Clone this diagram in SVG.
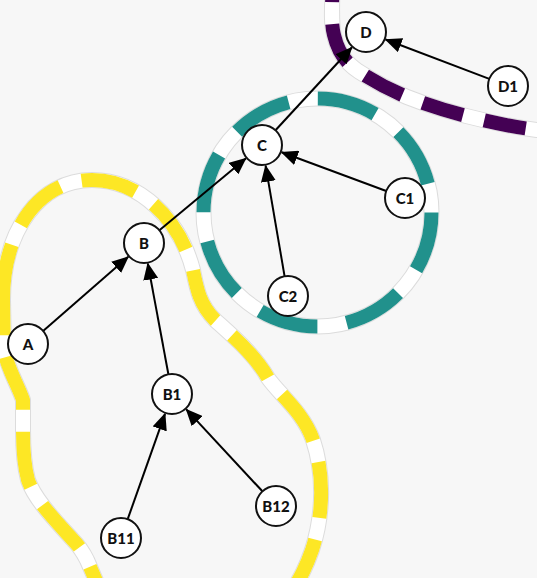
<svg xmlns="http://www.w3.org/2000/svg" width="537" height="578" viewBox="0 0 537 578">
<style>
.bg{fill:#f7f7f7}
.hb{fill:none;stroke:#dcdcdc;stroke-width:16;stroke-linejoin:round}
.hw{fill:none;stroke:#ffffff;stroke-width:14;stroke-linejoin:round}
.hd{fill:none;stroke-width:14;stroke-linejoin:round}
.edge{stroke:#000;stroke-width:2;fill:none;marker-end:url(#arr)}
.node circle{fill:#fff;stroke:#111;stroke-width:2}
.node text{font-family:Lato,"Liberation Sans",sans-serif;font-weight:900;font-size:15px;fill:#111;text-anchor:middle;dominant-baseline:central}
</style>
<defs>
<marker id="arr" markerUnits="userSpaceOnUse" markerWidth="17" markerHeight="15" refX="16" refY="7.5" orient="auto">
<path d="M0,0 L17,7.5 L0,15 Z" fill="#000"/>
</marker>
<path id="hullY" d="M3,300 C3,230 40,180 92,180 C140,180 180,220 193,270 C197,290 200,305 215,320 C235,338 255,355 268,378 C280,395 303,412 313,440 C323,470 325,510 312,550 C305,570 300,578 290,595 C270,630 140,630 100,590 L87,560 C82,550 78,545 73,540 C55,520 35,500 28,480 C24,465 23,450 23,430 L23,400 C18,385 8,370 4,350 Z"/>
<circle id="hullT" cx="317.5" cy="212.5" r="114"/>
<path id="hullP" d="M333,-40 C333,0 330,20 334,35 C338,52 345,62 358,71 C375,82 390,90 407,97 C440,110 490,124 537,130 L580,134 L600,-60 Z"/>
</defs>
<rect class="bg" x="0" y="0" width="537" height="578"/>
<g id="hulls">
<use href="#hullY" class="hb"/><use href="#hullY" class="hw"/><use href="#hullY" class="hd" stroke="#fde725" stroke-dasharray="56 22"/>
<use href="#hullT" class="hb"/><use href="#hullT" class="hw"/><use href="#hullT" class="hd" stroke="#21918c" stroke-dasharray="60 29.5"/>
<use href="#hullP" class="hb"/><use href="#hullP" class="hw"/><use href="#hullP" class="hd" stroke="#440154" stroke-dasharray="42 22"/>
</g>
<g id="edges">
<line class="edge" x1="43.1" y1="330.9" x2="128.2" y2="256.8"/>
<line class="edge" x1="159.4" y1="230.2" x2="245.8" y2="158.4"/>
<line class="edge" x1="275.5" y1="130.3" x2="351.8" y2="47.5"/>
<line class="edge" x1="489.3" y1="78.9" x2="385.6" y2="39.5"/>
<line class="edge" x1="386.2" y1="191.0" x2="281.7" y2="152.3"/>
<line class="edge" x1="284.6" y1="276.3" x2="265.6" y2="165.7"/>
<line class="edge" x1="168.4" y1="374.3" x2="147.8" y2="263.6"/>
<line class="edge" x1="127.7" y1="519.2" x2="165.0" y2="413.8"/>
<line class="edge" x1="262.4" y1="491.3" x2="186.3" y2="409.4"/>
</g>
<g id="node-D" class="node"><circle cx="366" cy="32" r="20"/><text x="366" y="32">D</text></g>
<g id="node-D1" class="node"><circle cx="508" cy="86" r="20"/><text x="508" y="86">D1</text></g>
<g id="node-C" class="node"><circle cx="262" cy="145" r="20"/><text x="262" y="145">C</text></g>
<g id="node-C1" class="node"><circle cx="405" cy="198" r="20"/><text x="405" y="198">C1</text></g>
<g id="node-C2" class="node"><circle cx="288" cy="296" r="20"/><text x="288" y="296">C2</text></g>
<g id="node-B" class="node"><circle cx="144" cy="243" r="20"/><text x="144" y="243">B</text></g>
<g id="node-A" class="node"><circle cx="28" cy="344" r="20"/><text x="28" y="344">A</text></g>
<g id="node-B1" class="node"><circle cx="172" cy="394" r="20"/><text x="172" y="394">B1</text></g>
<g id="node-B11" class="node"><circle cx="121" cy="538" r="20"/><text x="121" y="538">B11</text></g>
<g id="node-B12" class="node"><circle cx="276" cy="506" r="20"/><text x="276" y="506">B12</text></g>
</svg>
